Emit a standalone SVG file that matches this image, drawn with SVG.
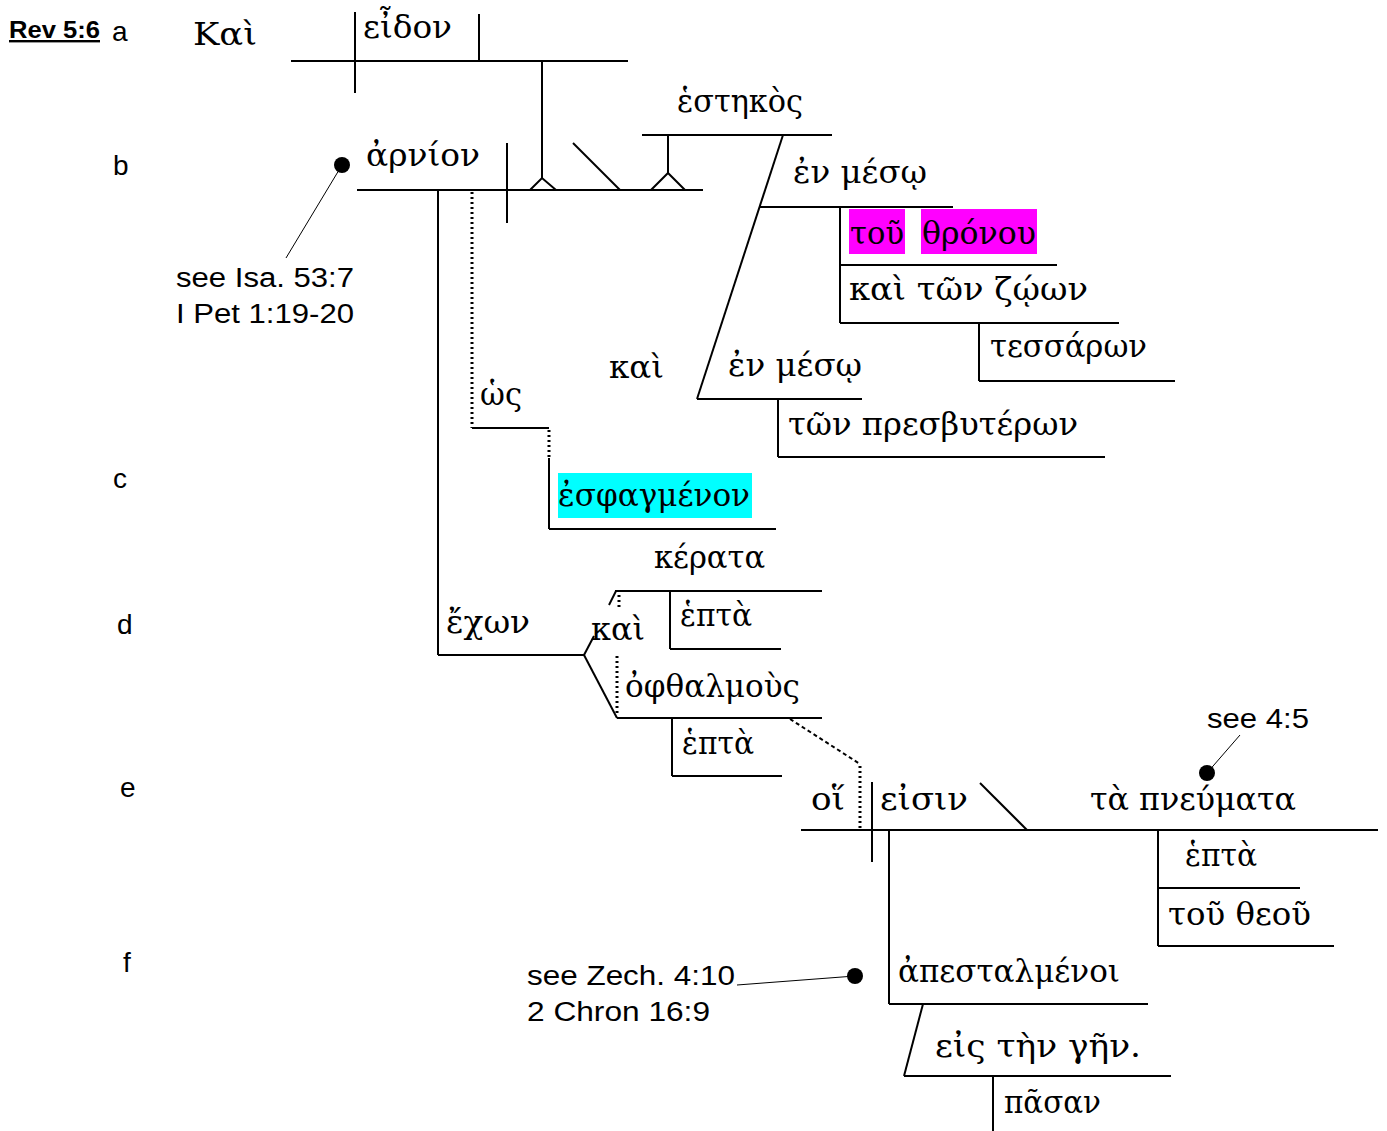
<svg xmlns="http://www.w3.org/2000/svg" width="1387" height="1131" viewBox="0 0 1387 1131">
<style>
.l{stroke:#000;stroke-width:2;fill:none;stroke-linecap:butt}
.thin{stroke:#000;stroke-width:1;fill:none}
.dot{stroke:#000;stroke-width:3;fill:none;stroke-dasharray:2 3}
.dash{stroke:#000;stroke-width:2;fill:none;stroke-dasharray:4 3}
.g{font-family:"DejaVu Serif","Liberation Serif",serif;font-size:32px;fill:#000}
.e{font-family:"Liberation Sans",Arial,sans-serif;font-size:27px;fill:#000}
.row{font-family:"Liberation Sans",Arial,sans-serif;font-size:28px;fill:#000}
</style>
<rect width="1387" height="1131" fill="#fff"/>
<g id="labels">
<text x="9" y="38" font-family="Liberation Sans,Arial,sans-serif" font-size="24" font-weight="bold" text-decoration="underline" textLength="91" lengthAdjust="spacingAndGlyphs">Rev 5:6</text>
<text class="row" x="112" y="41">a</text>
<text class="row" x="113" y="175">b</text>
<text class="row" x="113" y="488">c</text>
<text class="row" x="117" y="634">d</text>
<text class="row" x="120" y="797">e</text>
<text class="row" x="123" y="972">f</text>
</g>
<g id="connectors">
<!-- clause a -->
<line class="l" x1="291" y1="61" x2="628" y2="61"/>
<line class="l" x1="355" y1="12" x2="355" y2="93"/>
<line class="l" x1="479" y1="14" x2="479" y2="61"/>
<line class="l" x1="542" y1="61" x2="542" y2="178"/>
<polyline class="l" points="530,190 542,178 556,190"/>
<!-- arnion line -->
<line class="l" x1="357" y1="190" x2="703" y2="190"/>
<line class="l" x1="507" y1="143" x2="507" y2="223"/>
<line class="l" x1="573" y1="143" x2="620" y2="190"/>
<polyline class="l" points="651,190 668,173 685,190"/>
<line class="l" x1="668" y1="135" x2="668" y2="173"/>
<line class="l" x1="642" y1="135" x2="832" y2="135"/>
<line class="l" x1="783" y1="135" x2="697" y2="399"/>
<line class="l" x1="760" y1="207" x2="953" y2="207"/>
<line class="l" x1="840" y1="207" x2="840" y2="323"/>
<line class="l" x1="840" y1="265" x2="1057" y2="265"/>
<line class="l" x1="840" y1="323" x2="1119" y2="323"/>
<line class="l" x1="979" y1="323" x2="979" y2="381"/>
<line class="l" x1="979" y1="381" x2="1175" y2="381"/>
<line class="l" x1="697" y1="399" x2="862" y2="399"/>
<line class="l" x1="778" y1="399" x2="778" y2="457"/>
<line class="l" x1="778" y1="457" x2="1105" y2="457"/>
<!-- hos esphagmenon -->
<line class="dot" x1="472" y1="192" x2="472" y2="428"/>
<line class="l" x1="472" y1="428" x2="549" y2="428"/>
<line class="dot" x1="549" y1="430" x2="549" y2="458"/>
<line class="l" x1="549" y1="458" x2="549" y2="529"/>
<line class="l" x1="549" y1="529" x2="776" y2="529"/>
<!-- echon -->
<line class="l" x1="438" y1="190" x2="438" y2="655"/>
<line class="l" x1="438" y1="655" x2="584" y2="655"/>
<line class="l" x1="584" y1="655" x2="594" y2="636"/>
<line class="l" x1="609" y1="605" x2="616" y2="591"/>
<line class="l" x1="584" y1="655" x2="617" y2="718"/>
<line class="l" x1="615" y1="591" x2="822" y2="591"/>
<line class="dot" x1="619" y1="595" x2="619" y2="608"/>
<line class="l" x1="670" y1="591" x2="670" y2="649"/>
<line class="l" x1="670" y1="649" x2="781" y2="649"/>
<line class="dot" x1="617" y1="656" x2="617" y2="716"/>
<line class="l" x1="617" y1="718" x2="822" y2="718"/>
<line class="l" x1="672" y1="718" x2="672" y2="776"/>
<line class="l" x1="672" y1="776" x2="782" y2="776"/>
<polyline class="dash" points="790,719 860,764"/>
<line class="dot" x1="860" y1="766" x2="860" y2="830"/>
<!-- clause e -->
<line class="l" x1="801" y1="830" x2="1378" y2="830"/>
<line class="l" x1="872" y1="782" x2="872" y2="862"/>
<line class="l" x1="889" y1="830" x2="889" y2="1004"/>
<line class="l" x1="980" y1="783" x2="1027" y2="830"/>
<line class="l" x1="1158" y1="830" x2="1158" y2="946"/>
<line class="l" x1="1158" y1="888" x2="1300" y2="888"/>
<line class="l" x1="1158" y1="946" x2="1334" y2="946"/>
<line class="l" x1="889" y1="1004" x2="1148" y2="1004"/>
<line class="l" x1="923" y1="1004" x2="904" y2="1076"/>
<line class="l" x1="904" y1="1076" x2="1171" y2="1076"/>
<line class="l" x1="993" y1="1076" x2="993" y2="1131"/>
<!-- notes -->
<line class="thin" x1="339" y1="170" x2="286" y2="258"/>
<line class="thin" x1="1207" y1="773" x2="1240" y2="735"/>
<line class="thin" x1="855" y1="976" x2="737" y2="985"/>
</g>
<g id="n-kai-a"><text class="g" x="193" y="45" font-size="36" textLength="64" lengthAdjust="spacingAndGlyphs">Καὶ</text></g>
<g id="n-eidon"><text class="g" x="363" y="38" textLength="89" lengthAdjust="spacingAndGlyphs">εἶδον</text></g>
<g id="n-arnion"><text class="g" x="366" y="166" textLength="114" lengthAdjust="spacingAndGlyphs">ἀρνίον</text>
<circle cx="342" cy="165" r="8" fill="#000"/></g>
<g id="n-note1"><text class="e" x="176" y="287" textLength="178" lengthAdjust="spacingAndGlyphs">see Isa. 53:7</text>
<text class="e" x="176" y="323" textLength="178" lengthAdjust="spacingAndGlyphs">I Pet 1:19-20</text></g>
<g id="n-hestekos"><text class="g" x="677" y="112" textLength="126" lengthAdjust="spacingAndGlyphs">ἑστηκὸς</text></g>
<g id="n-en-meso1"><text class="g" x="793" y="183" textLength="134" lengthAdjust="spacingAndGlyphs">ἐν μέσῳ</text></g>
<g id="n-tou-thronou">
<rect x="849" y="209" width="56" height="45" fill="#ff00ff"/>
<rect x="921" y="209" width="116" height="45" fill="#ff00ff"/>
<text class="g" x="850" y="244" textLength="54" lengthAdjust="spacingAndGlyphs">τοῦ</text>
<text class="g" x="922" y="244" textLength="114" lengthAdjust="spacingAndGlyphs">θρόνου</text></g>
<g id="n-zoon"><text class="g" x="849" y="300" textLength="239" lengthAdjust="spacingAndGlyphs">καὶ τῶν ζῴων</text></g>
<g id="n-tessaron"><text class="g" x="990" y="357" textLength="157" lengthAdjust="spacingAndGlyphs">τεσσάρων</text></g>
<g id="n-kai-b"><text class="g" x="609" y="378" textLength="55" lengthAdjust="spacingAndGlyphs">καὶ</text></g>
<g id="n-en-meso2"><text class="g" x="728" y="376" textLength="134" lengthAdjust="spacingAndGlyphs">ἐν μέσῳ</text></g>
<g id="n-presbyteron"><text class="g" x="788" y="435" textLength="290" lengthAdjust="spacingAndGlyphs">τῶν πρεσβυτέρων</text></g>
<g id="n-hos"><text class="g" x="480" y="405" textLength="42" lengthAdjust="spacingAndGlyphs">ὡς</text></g>
<g id="n-esphagmenon"><rect x="558" y="473" width="194" height="45" fill="#00ffff"/>
<text class="g" x="558" y="506" textLength="192" lengthAdjust="spacingAndGlyphs">ἐσφαγμένον</text></g>
<g id="n-echon"><text class="g" x="446" y="633" textLength="84" lengthAdjust="spacingAndGlyphs">ἔχων</text></g>
<g id="n-kerata"><text class="g" x="654" y="568" textLength="111" lengthAdjust="spacingAndGlyphs">κέρατα</text></g>
<g id="n-hepta1"><text class="g" x="680" y="626" textLength="72" lengthAdjust="spacingAndGlyphs">ἑπτὰ</text></g>
<g id="n-kai-d"><text class="g" x="591" y="640" textLength="54" lengthAdjust="spacingAndGlyphs">καὶ</text></g>
<g id="n-ophthalmous"><text class="g" x="625" y="697" textLength="175" lengthAdjust="spacingAndGlyphs">ὀφθαλμοὺς</text></g>
<g id="n-hepta2"><text class="g" x="682" y="754" textLength="72" lengthAdjust="spacingAndGlyphs">ἑπτὰ</text></g>
<g id="n-hoi"><text class="g" x="811" y="810" textLength="34" lengthAdjust="spacingAndGlyphs">οἵ</text></g>
<g id="n-eisin"><text class="g" x="880" y="810" textLength="88" lengthAdjust="spacingAndGlyphs">εἰσιν</text></g>
<g id="n-pneumata"><text class="g" x="1090" y="810" textLength="206" lengthAdjust="spacingAndGlyphs">τὰ πνεύματα</text>
<circle cx="1207" cy="773" r="8" fill="#000"/></g>
<g id="n-note2"><text class="e" x="1207" y="728" textLength="102" lengthAdjust="spacingAndGlyphs">see 4:5</text></g>
<g id="n-hepta3"><text class="g" x="1185" y="866" textLength="72" lengthAdjust="spacingAndGlyphs">ἑπτὰ</text></g>
<g id="n-tou-theou"><text class="g" x="1168" y="925" textLength="143" lengthAdjust="spacingAndGlyphs">τοῦ θεοῦ</text></g>
<g id="n-apestalmenoi"><text class="g" x="898" y="982" textLength="222" lengthAdjust="spacingAndGlyphs">ἀπεσταλμένοι</text>
<circle cx="855" cy="976" r="8" fill="#000"/></g>
<g id="n-note3"><text class="e" x="527" y="985" textLength="208" lengthAdjust="spacingAndGlyphs">see Zech. 4:10</text>
<text class="e" x="527" y="1021" textLength="183" lengthAdjust="spacingAndGlyphs">2 Chron 16:9</text></g>
<g id="n-eis-ten-gen"><text class="g" x="935" y="1057" textLength="206" lengthAdjust="spacingAndGlyphs">εἰς τὴν γῆν.</text></g>
<g id="n-pasan"><text class="g" x="1004" y="1113" textLength="97" lengthAdjust="spacingAndGlyphs">πᾶσαν</text></g>
</svg>
